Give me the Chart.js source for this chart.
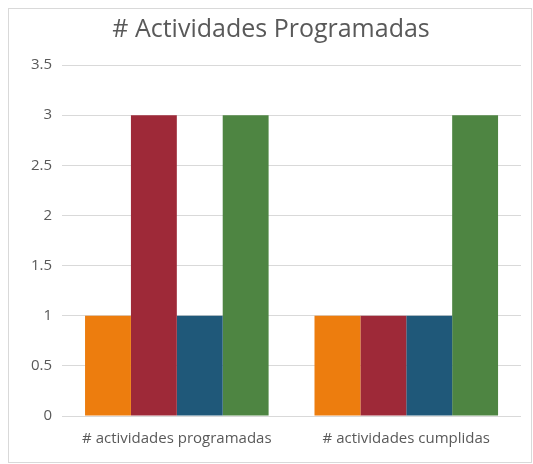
<!DOCTYPE html>
<html>
<head>
<meta charset="utf-8">
<script src="https://cdn.jsdelivr.net/npm/chart.js@4"></script>
<style>
  body { margin: 0; background: #fff; }
  #wrap { position: absolute; left: 8px; top: 8px; width: 524px; height: 455px; border: 1px solid #d9d9d9; box-sizing: border-box; }
</style>
</head>
<body>
<div id="wrap"><canvas id="myChart"></canvas></div>
<script>
var categories = ['# actividades programadas', '# actividades cumplidas'];
var serie1 = [1, 1];
var serie2 = [3, 1];
var serie3 = [1, 1];
var serie4 = [3, 3];
var colores = ['#ED7D0E', '#9E2938', '#1F5879', '#4E8542'];

var ctx = document.getElementById('myChart');

var myChart = new Chart(ctx, {
    type: 'bar',
    data: {
        labels: categories,
        datasets: [
            { data: serie1, backgroundColor: colores[0] },
            { data: serie2, backgroundColor: colores[1] },
            { data: serie3, backgroundColor: colores[2] },
            { data: serie4, backgroundColor: colores[3] }
        ]
    },
    options: {
        responsive: true,
        maintainAspectRatio: false,
        animation: false,
        layout: { padding: { left: 12, right: 10, top: 6, bottom: 8 } },
        datasets: {
            bar: { categoryPercentage: 0.8, barPercentage: 1.0 }
        },
        plugins: {
            legend: { display: false },
            tooltip: { enabled: false },
            title: {
                display: true,
                text: '# Actividades Programadas',
                color: '#595959',
                font: { family: 'Open Sans', size: 25, weight: 'normal' },
                padding: { top: 0, bottom: 20 }
            }
        },
        scales: {
            x: {
                grid: { display: false },
                border: { display: false },
                ticks: { color: '#595959', font: { family: 'Open Sans', size: 15 }, padding: 6 }
            },
            y: {
                min: 0,
                max: 3.5,
                ticks: {
                    stepSize: 0.5,
                    color: '#595959',
                    font: { family: 'Open Sans', size: 15 },
                    padding: 10,
                    callback: function (v) { return String(v); }
                },
                grid: { color: '#d9d9d9', drawTicks: false },
                border: { display: false }
            }
        }
    }
});
</script>
</body>
</html>
